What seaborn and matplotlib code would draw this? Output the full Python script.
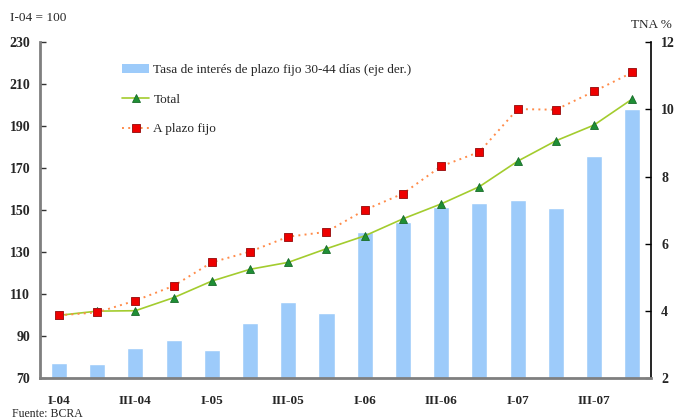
import pandas as pd
import numpy as np
import seaborn as sns
import matplotlib.pyplot as plt
from matplotlib.patches import Patch
from matplotlib.lines import Line2D

# Quarterly data, I-04 to IV-07
quarters = ["I-04", "II-04", "III-04", "IV-04",
            "I-05", "II-05", "III-05", "IV-05",
            "I-06", "II-06", "III-06", "IV-06",
            "I-07", "II-07", "III-07", "IV-07"]
tasa = [2.45, 2.42, 2.89, 3.13, 2.83, 3.66, 4.26, 3.93,
        6.36, 6.66, 7.10, 7.22, 7.31, 7.07, 8.60, 10.02]
total = [100.0, 102.0, 102.2, 108.4, 116.3, 121.9, 125.2, 131.7,
         137.8, 145.9, 153.0, 161.2, 173.3, 183.0, 190.5, 202.9]
plazo_fijo = [100.0, 101.4, 107.0, 114.0, 125.2, 130.3, 137.4, 139.7,
              150.1, 157.9, 170.9, 177.7, 198.1, 197.8, 206.5, 215.5]
shown_labels = ["I-04", "III-04", "I-05", "III-05", "I-06", "III-06", "I-07", "III-07"]

df = pd.DataFrame({"trimestre": quarters, "pos": np.arange(len(quarters)),
                   "tasa": tasa, "total": total, "plazo_fijo": plazo_fijo})

sns.set_style("white")
plt.rcParams["font.family"] = ["Liberation Serif", "DejaVu Serif"]

bar_color = "#9DCBFA"
fig = plt.figure(figsize=(6.75, 4.2), dpi=100)
ax = fig.add_axes([0.059, 0.099, 0.906, 0.801])
ax2 = ax.twinx()

# bars on the right axis, drawn behind the lines
sns.barplot(data=df, x="trimestre", y="tasa", ax=ax2, color=bar_color,
            width=0.42, saturation=1, errorbar=None)
ax.set_zorder(ax2.get_zorder() + 1)
ax.patch.set_visible(False)

sns.lineplot(data=df, x="pos", y="total", ax=ax, color="#A3CC2E", lw=1.2,
             marker="^", markersize=6, markerfacecolor="#1F8F35",
             markeredgecolor="#176B28", markeredgewidth=0.6)
sns.lineplot(data=df, x="pos", y="plazo_fijo", ax=ax, color="#FF8C4A", lw=1.4,
             linestyle=(0, (1, 2.2)), marker="s", markersize=5.5,
             markerfacecolor="#EE0000", markeredgecolor="#A01818",
             markeredgewidth=0.7)

ax.set_ylim(70, 230)
ax.set_yticks(range(70, 231, 20))
ax2.set_ylim(2, 12)
ax2.set_yticks(range(2, 13, 2))
ax.set_xlim(-0.5, len(quarters) - 0.5)
ax.set_xticks([quarters.index(q) for q in shown_labels])
ax.set_xticklabels(shown_labels)
ax.set_xlabel("")
ax.set_ylabel("")
ax2.set_xlabel("")
ax2.set_ylabel("")

for lab in ax.get_yticklabels() + ax2.get_yticklabels():
    lab.set_fontweight("bold")
    lab.set_fontsize(10)
for lab in ax.get_xticklabels():
    lab.set_fontweight("bold")
    lab.set_fontsize(9.5)

ax.tick_params(axis="y", direction="in", length=4, width=1, pad=7, color="#333333")
ax2.tick_params(axis="y", direction="in", length=4, width=1, pad=7, color="#000000")
ax.tick_params(axis="x", length=0, pad=12)
ax2.tick_params(axis="x", length=0)

for s in ["top", "right"]:
    ax.spines[s].set_visible(False)
for s in ["top", "left", "bottom"]:
    ax2.spines[s].set_visible(False)
ax.spines["left"].set_color("#7F7F7F")
ax.spines["left"].set_linewidth(2)
ax.spines["bottom"].set_color("#7F7F7F")
ax.spines["bottom"].set_linewidth(2)
ax2.spines["right"].set_color("#000000")
ax2.spines["right"].set_linewidth(1.2)

handles = [Patch(facecolor=bar_color, edgecolor="none"),
           Line2D([], [], color="#A3CC2E", lw=1.2, marker="^", markersize=6,
                  markerfacecolor="#1F8F35", markeredgecolor="#176B28",
                  markeredgewidth=0.6),
           Line2D([], [], color="#FF8C4A", lw=1.4, linestyle=(0, (1, 2.2)),
                  marker="s", markersize=5.5, markerfacecolor="#EE0000",
                  markeredgecolor="#A01818", markeredgewidth=0.7)]
labels = ["Tasa de interés de plazo fijo 30-44 días (eje der.)", "Total", "A plazo fijo"]
ax.legend(handles, labels, loc="upper left", bbox_to_anchor=(0.134, 0.934),
          frameon=False, fontsize=9.5, borderpad=0, borderaxespad=0,
          handlelength=2.1, handletextpad=0.3, labelspacing=1.3)

fig.text(10 / 675, 1 - 18 / 420, "I-04 = 100", fontsize=9.5, va="center", ha="left")
fig.text(672 / 675, 1 - 25 / 420, "TNA %", fontsize=9.5, va="center", ha="right")
fig.text(12 / 675, 1 - 414 / 420, "Fuente: BCRA", fontsize=8.5, va="center", ha="left")

fig.savefig("out.png", dpi=100)
